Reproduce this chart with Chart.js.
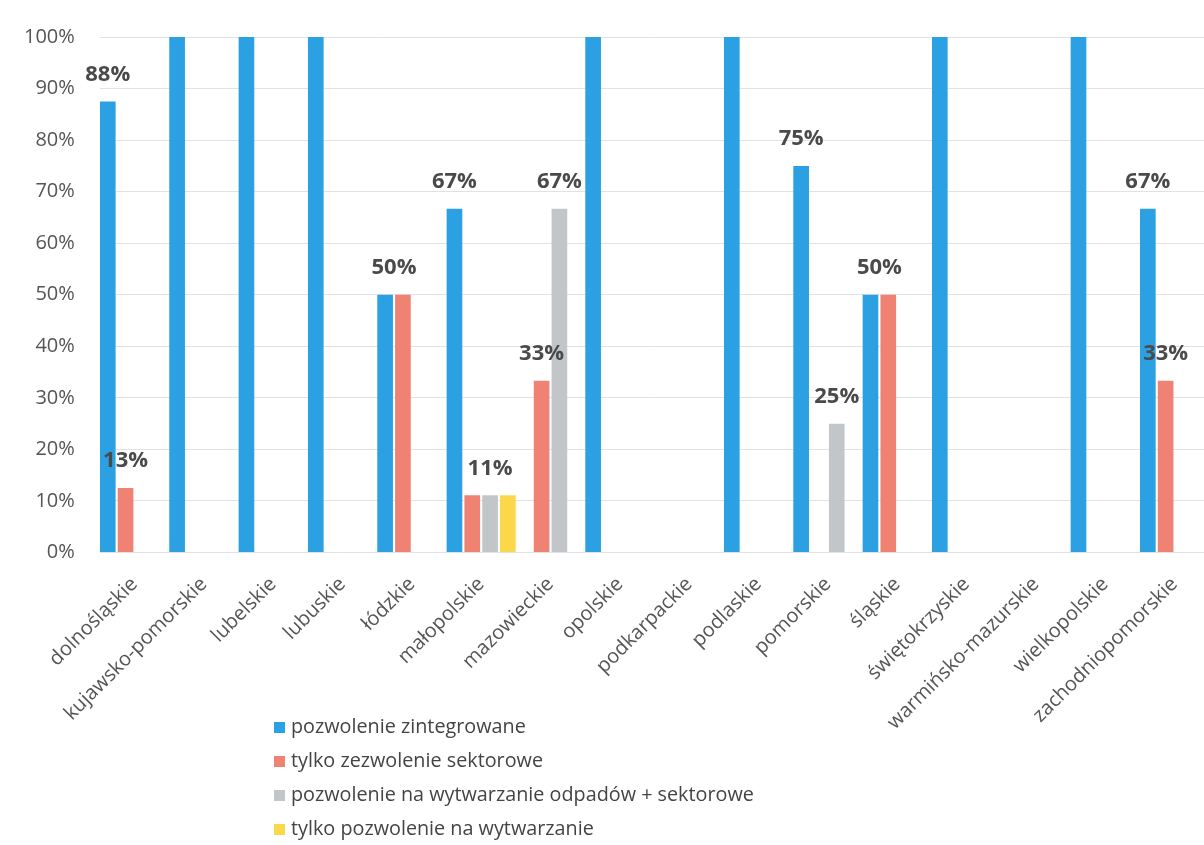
<!DOCTYPE html>
<html lang="pl">
<head>
<meta charset="utf-8">
<title>Rodzaj pozwolenia wg województw</title>
<script src="https://cdn.jsdelivr.net/npm/chart.js@4.4.1/dist/chart.umd.min.js"></script>
<style>
  html, body { margin: 0; padding: 0; background: #fff; overflow: hidden; }
  #wrap { position: relative; width: 1214px; height: 845px; }
  #legenda { position: absolute; left: 274px; top: 709px; font-family: 'Open Sans', sans-serif; font-size: 19.8px; color: #444; }
  #legenda div { height: 34px; line-height: 34px; white-space: nowrap; }
  #legenda span { display: inline-block; width: 11px; height: 11px; margin-right: 6px; vertical-align: 0px; }
</style>
</head>
<body>
<div id="wrap">
  <canvas id="wykres" width="1214" height="845"></canvas>
  <div id="legenda"></div>
</div>
<script>
// kategorie (województwa)
const wojewodztwa = ['dolnośląskie', 'kujawsko-pomorskie', 'lubelskie', 'lubuskie', 'łódzkie', 'małopolskie',
    'mazowieckie', 'opolskie', 'podkarpackie', 'podlaskie', 'pomorskie', 'śląskie', 'świętokrzyskie',
    'warmińsko-mazurskie', 'wielkopolskie', 'zachodniopomorskie'];

// udział w % dla każdej serii
const zintegrowane    = [87.5, 100, 100, 100, 50, 66.7, 0,    100, 0, 100, 75, 50, 100, 0, 100, 66.7];
const sektorowe       = [12.5, 0,   0,   0,   50, 11.1, 33.3, 0,   0, 0,   0,  50, 0,   0, 0,   33.3];
const odpadySektorowe = [0,    0,   0,   0,   0,  11.1, 66.7, 0,   0, 0,   25, 0,  0,   0, 0,   0];
const tylkoWytwarzanie = [0,   0,   0,   0,   0,  11.1, 0,    0,   0, 0,   0,  0,  0,   0, 0,   0];

const nazwySerii = ['pozwolenie zintegrowane', 'tylko zezwolenie sektorowe',
    'pozwolenie na wytwarzanie odpadów + sektorowe', 'tylko pozwolenie na wytwarzanie'];

// etykiety os Y
const etykietyY = ['0%', '10%', '20%', '30%', '40%', '50%', '60%', '70%', '80%', '90%', '100%'];

// które słupki mają etykietę: [serie..., indeks województwa]
const etykietyDanych = [
    [[0], 0], [[1], 0], [[0, 1], 4], [[0], 5], [[2], 5], [[1], 6], [[2], 6],
    [[0], 10], [[2], 10], [[0, 1], 11], [[0], 15], [[1], 15]
];

const kolory = ['#2ba0e3', '#ef8272', '#c3c6c9', '#fbd84a'];
const czcionka = "'Open Sans', sans-serif";

// rysowanie etykiet nad słupkami
const etykietyPlugin = {
    id: 'etykiety',
    afterDatasetsDraw(chart) {
        const ctx = chart.ctx;
        ctx.save();
        ctx.font = 'bold 22px ' + czcionka;
        ctx.fillStyle = '#4a4a4a';
        ctx.textAlign = 'center';
        ctx.textBaseline = 'middle';
        etykietyDanych.forEach(([serie, i]) => {
            const bary = serie.map(s => chart.getDatasetMeta(s).data[i]);
            const x = bary.reduce((a, b) => a + b.x, 0) / bary.length;
            const y = Math.min(...bary.map(b => b.y));
            const wartosc = chart.data.datasets[serie[0]].data[i];
            ctx.fillText(Math.round(wartosc) + '%', x, y - 27);
        });
        ctx.restore();
    }
};

const ctx = document.getElementById('wykres').getContext('2d');
const wykres = new Chart(ctx, {
    type: 'bar',
    data: {
        labels: wojewodztwa,
        datasets: [zintegrowane, sektorowe, odpadySektorowe, tylkoWytwarzanie].map((dane, k) => ({
            label: nazwySerii[k],
            data: dane,
            backgroundColor: kolory[k],
            borderWidth: 0,
            barPercentage: 0.88,
            categoryPercentage: 1.027
        }))
    },
    options: {
        responsive: false,
        animation: false,
        layout: { padding: { top: 37, right: 4.8, left: 0, bottom: 0 } },
        plugins: {
            legend: { display: false },
            tooltip: { enabled: false }
        },
        scales: {
            x: {
                grid: { display: false },
                border: { display: false },
                ticks: {
                    autoSkip: false,
                    minRotation: 45,
                    maxRotation: 45,
                    padding: 12,
                    color: '#555',
                    font: { family: czcionka, size: 20 }
                },
                afterFit(scale) { scale.height = 292.5; }
            },
            y: {
                min: 0,
                max: 100,
                border: { display: false },
                grid: { color: '#e2e2e2', drawTicks: false },
                ticks: {
                    stepSize: 10,
                    padding: 25,
                    color: '#555',
                    font: { family: czcionka, size: 20 },
                    callback: (v) => etykietyY[Math.round(v / 10)]
                },
                afterFit(scale) { scale.width = 99.8; }
            }
        }
    },
    plugins: [etykietyPlugin]
});

// legenda pionowa pod wykresem
const legenda = document.getElementById('legenda');
wykres.data.datasets.forEach(ds => {
    const wiersz = document.createElement('div');
    const kwadrat = document.createElement('span');
    kwadrat.style.background = ds.backgroundColor;
    wiersz.appendChild(kwadrat);
    wiersz.appendChild(document.createTextNode(ds.label));
    legenda.appendChild(wiersz);
});
</script>
</body>
</html>
